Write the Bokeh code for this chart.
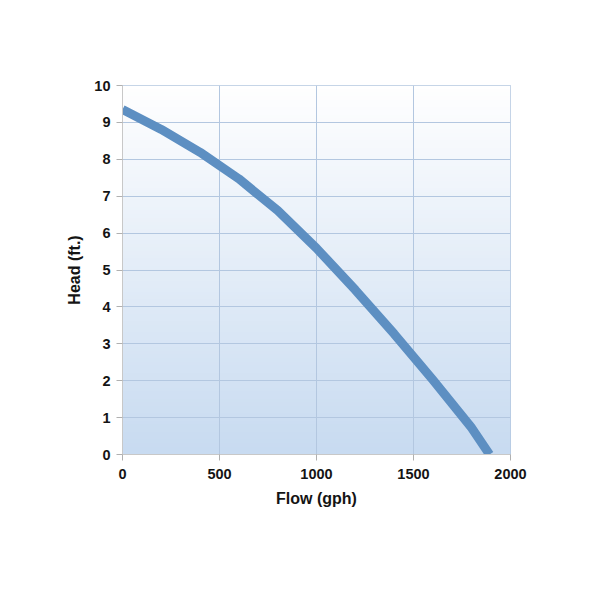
import numpy as np
from bokeh.plotting import figure
from bokeh.models import FixedTicker, Range1d
from bokeh.embed import file_html
from bokeh.resources import INLINE

# Data
flow = [0, 200, 400, 600, 800, 1000, 1200, 1400, 1600, 1800, 1892]
head = [9.35, 8.81, 8.19, 7.47, 6.61, 5.59, 4.46, 3.27, 2.02, 0.72, 0.0]
x_ticks = [0, 500, 1000, 1500, 2000]
y_ticks = [0, 1, 2, 3, 4, 5, 6, 7, 8, 9, 10]

p = figure(width=584, height=584, output_backend="svg", toolbar_location=None,
           x_range=Range1d(0, 2000), y_range=Range1d(0, 10),
           min_border_left=122, min_border_right=74, min_border_top=85, min_border_bottom=130)

# gradient background (white at top to light blue at bottom)
n = 100
top = np.array([255, 255, 255])
bot = np.array([200, 219, 241])
t = np.linspace(0, 1, n)[:, None]
cols = (bot * (1 - t) + top * t).astype(np.uint8)
img = np.zeros((n, 1), dtype=np.uint32)
view = img.view(dtype=np.uint8).reshape((n, 1, 4))
view[:, 0, 0] = cols[:, 0]
view[:, 0, 1] = cols[:, 1]
view[:, 0, 2] = cols[:, 2]
view[:, 0, 3] = 255
p.image_rgba(image=[img], x=0, y=0, dw=2000, dh=10, level="image")

p.line(flow, head, line_color="#5d8fc2", line_width=9, line_cap="butt", line_join="round")

p.background_fill_color = "white"
p.border_fill_color = "white"
p.outline_line_color = "#b3c7e0"

for ax in (p.xaxis[0], p.yaxis[0]):
    ax.axis_line_color = "#c8c8c8"
    ax.major_tick_line_color = "#b0b0b0"
    ax.major_tick_out = 6
    ax.major_tick_in = 0
    ax.minor_tick_line_color = None
    ax.major_label_text_font = "Liberation Sans"
    ax.major_label_text_font_style = "bold"
    ax.major_label_text_font_size = "14.5px"
    ax.major_label_text_color = "#141414"
    ax.axis_label_text_font = "Liberation Sans"
    ax.axis_label_text_font_style = "bold"
    ax.axis_label_text_font_size = "16px"
    ax.axis_label_text_color = "#141414"

p.xaxis.ticker = FixedTicker(ticks=x_ticks)
p.yaxis.ticker = FixedTicker(ticks=y_ticks)
p.xaxis.axis_label = "Flow (gph)"
p.yaxis.axis_label = "Head (ft.)"
p.xaxis.major_label_standoff = 8
p.yaxis.major_label_standoff = 6
p.xaxis.axis_label_standoff = 8
p.yaxis.axis_label_standoff = 8

p.grid.grid_line_color = "#b3c7e0"
p.grid.grid_line_width = 1
p.xgrid.ticker = FixedTicker(ticks=x_ticks)
p.ygrid.ticker = FixedTicker(ticks=y_ticks)

open("out.html", "w").write(file_html(p, INLINE))
